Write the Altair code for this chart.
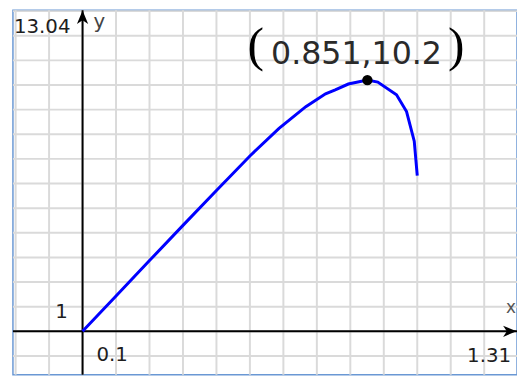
import altair as alt
import pandas as pd

# curve
curve_x = [0.0, 0.1, 0.2, 0.3, 0.4, 0.5, 0.587, 0.667, 0.726, 0.755, 0.794, 0.851, 0.882, 0.938, 0.968, 0.991, 1.0]
curve_y = [0.0, 1.43, 2.87, 4.3, 5.72, 7.12, 8.24, 9.12, 9.64, 9.8, 10.04, 10.2, 10.12, 9.6, 8.92, 7.72, 6.32]

peak_x = [0.851]
peak_y = [10.2]
peak_label = ["0.851,10.2"]

x_min, x_max = -0.208, 1.298
y_min, y_max = -1.77, 13.04

x_grid = [-0.2, -0.1, 0.0, 0.1, 0.2, 0.3, 0.4, 0.5, 0.6, 0.7, 0.8, 0.9, 1.0, 1.1, 1.2]
y_grid = [-1, 0, 1, 2, 3, 4, 5, 6, 7, 8, 9, 10, 11, 12, 13]

label_top = "13.04"
label_right = "1.31"
label_xstep = "0.1"
label_ystep = "1"

curve = pd.DataFrame({"x": curve_x, "y": curve_y})
peak = pd.DataFrame({"x": peak_x, "y": peak_y, "label": peak_label})

xs = alt.Scale(domain=[x_min, x_max], nice=False, zero=False)
ys = alt.Scale(domain=[y_min, y_max], nice=False, zero=False)
X = lambda f="x": alt.X(f + ":Q", scale=xs, axis=None)
Y = lambda f="y": alt.Y(f + ":Q", scale=ys, axis=None)

gcol = "#dadada"
vgrid = alt.Chart(pd.DataFrame({"x": x_grid})).mark_rule(color=gcol, strokeWidth=2).encode(x=X())
hgrid = alt.Chart(pd.DataFrame({"y": y_grid})).mark_rule(color=gcol, strokeWidth=2).encode(y=Y())

axes_df = pd.DataFrame({"x": [0.0], "y": [0.0]})
vrule = alt.Chart(axes_df).mark_rule(color="black", strokeWidth=2).encode(x=X())
hrule = alt.Chart(axes_df).mark_rule(color="black", strokeWidth=2).encode(y=Y())

arrow_path = "M0,-1 L0.75,0.8 L0,0.3 L-0.75,0.8 Z"
yarrow = alt.Chart(pd.DataFrame({"x": [0.0], "y": [y_max]})).mark_point(
    shape=arrow_path, filled=True, color="black", size=230, opacity=1, yOffset=8
).encode(x=X(), y=Y())
xarrow = alt.Chart(pd.DataFrame({"x": [x_max], "y": [0.0]})).mark_point(
    shape=arrow_path, filled=True, color="black", size=230, opacity=1, angle=90, xOffset=-8
).encode(x=X(), y=Y())

line = alt.Chart(curve).mark_line(color="#0000ff", strokeWidth=3).encode(x=X(), y=Y())

dot = alt.Chart(peak).mark_point(filled=True, color="black", size=110, opacity=1).encode(x=X(), y=Y())

font = "DejaVu Sans"
plabel = alt.Chart(peak).mark_text(font=font, fontSize=32, color="#2a2a2a",
                                   align="center", baseline="alphabetic", dx=-11, dy=-16).encode(
    x=X(), y=Y(), text="label:N")
lparen = alt.Chart(peak).mark_text(font="Liberation Serif", fontSize=50, color="black",
                                   align="center", baseline="alphabetic", dx=-113, dy=-19).encode(
    x=X(), y=Y(), text=alt.value("("))
rparen = alt.Chart(peak).mark_text(font="Liberation Serif", fontSize=50, color="black",
                                   align="center", baseline="alphabetic", dx=90, dy=-19).encode(
    x=X(), y=Y(), text=alt.value(")"))

def txt(xv, yv, s, align, dx, dy, color="#1e1e1e", size=20):
    return alt.Chart(pd.DataFrame({"x": [xv], "y": [yv], "t": [s]})).mark_text(
        font=font, fontSize=size, color=color, align=align, baseline="alphabetic",
        dx=dx, dy=dy).encode(x=X(), y=Y(), text="t:N")

t_top = txt(x_min, y_max, label_top, "left", 1, 23)
t_y = txt(0.0, y_max, "y", "left", 11, 18, color="#444444")
t_one = txt(0.0, 0.0, label_ystep, "right", -15, -13)
t_step = txt(0.0, 0.0, label_xstep, "left", 14, 30)
t_right = txt(x_max, 0.0, label_right, "right", -6, 31)
t_x = txt(x_max, 0.0, "x", "right", -1, -18, color="#555555", size=17)

chart = alt.layer(
    vgrid, hgrid, vrule, hrule, yarrow, xarrow, line, dot, plabel, lparen, rparen,
    t_top, t_y, t_one, t_step, t_right, t_x
).properties(
    width=510, height=369,
    padding={"left": 5, "top": 0, "right": 0, "bottom": 0},
    autosize=alt.AutoSizeParams(type="none"),
    background="white",
).configure_view(stroke="#6a98d4", strokeWidth=1.5)

chart.save("out.html", embed_options={"renderer": "svg", "actions": False})
